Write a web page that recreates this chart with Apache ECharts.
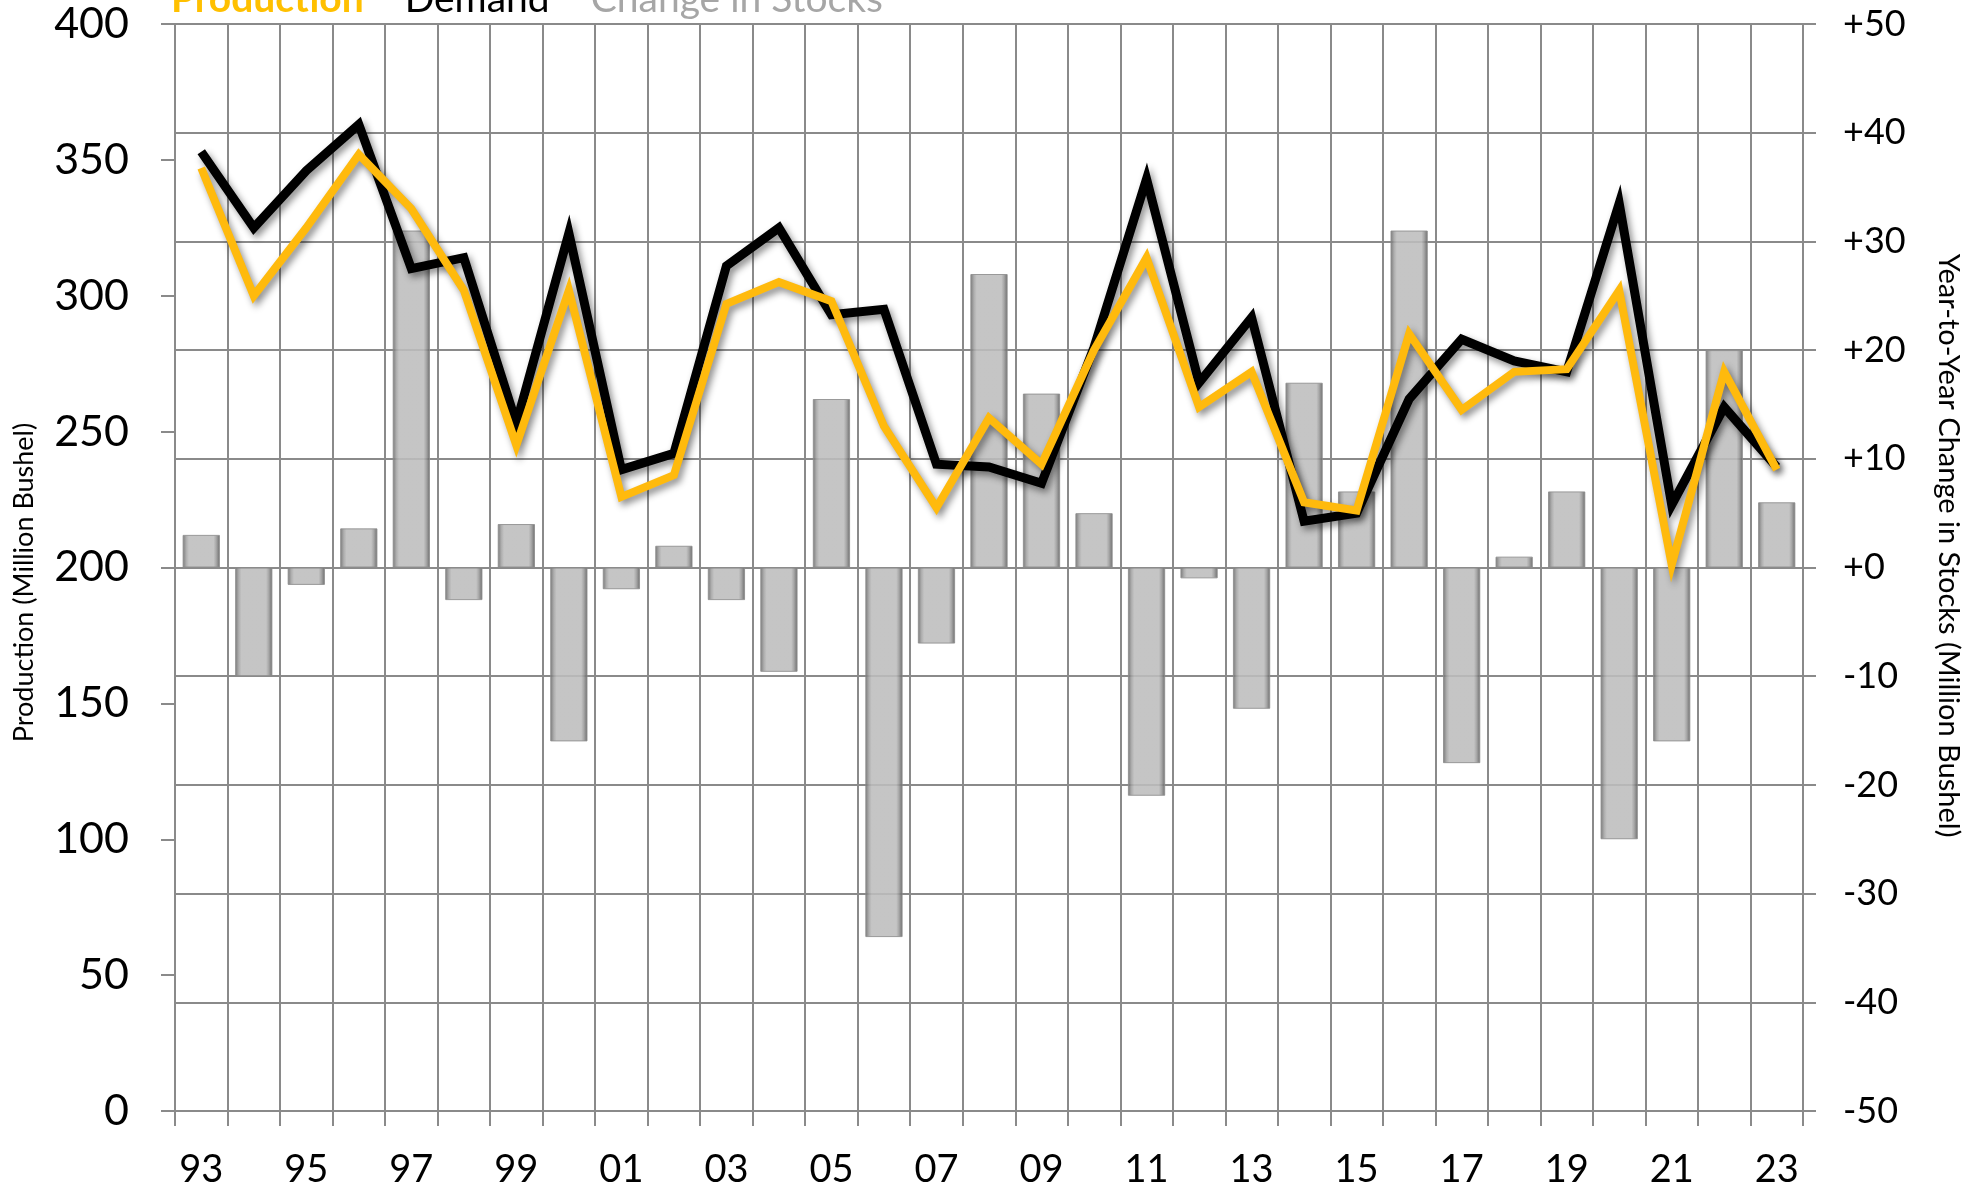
<!DOCTYPE html>
<html>
<head>
<meta charset="utf-8">
<script src="https://cdn.jsdelivr.net/npm/echarts@6/dist/echarts.min.js"></script>
<style>
  html, body { margin: 0; padding: 0; background: #fff; }
  #chart { width: 1980px; height: 1194px; }
</style>
</head>
<body>
<div id="chart"></div>
<script>
// crop years 1993-2023
var years = ['93','94','95','96','97','98','99','00','01','02','03','04','05','06','07',
  '08','09','10','11','12','13','14','15','16','17','18','19','20','21','22','23']
var production = [347, 300, 325, 352, 332, 302, 245, 302, 226, 234, 297, 305, 298, 252, 222,
  255, 238, 280, 314, 259, 272, 224, 221, 286, 258, 272, 273, 302, 201, 272, 236]
var demand = [353, 325, 346, 363, 310, 314, 253, 323, 236, 242, 311, 325, 293, 295, 238,
  237, 231, 281, 343, 268, 292, 217, 220, 262, 284, 276, 272, 334, 223, 259, 237]
var stockChange = [3, -10, -1.6, 3.6, 31, -3, 4, -16, -2, 2, -3, -9.6, 15.5, -34, -7,
  27, 16, 5, -21, -1, -13, 17, 7, 31, -18, 1, 7, -25, -16, 20, 6]

var gridGray = '#8a8a8a'
var font = 'Lato'

var chart = echarts.init(document.getElementById('chart'))
chart.setOption({
  animation: false,
  backgroundColor: '#fff',
  textStyle: { fontFamily: font },
  legend: {
    top: -20,
    left: 166,
    padding: 0,
    icon: 'none',
    itemWidth: 0,
    itemGap: 36,
    selectedMode: false,
    textStyle: { fontSize: 39, fontFamily: font },
    data: [
      { name: 'Production', textStyle: { color: '#FFC000', fontWeight: 'bold' } },
      { name: 'Demand', textStyle: { color: '#000' } },
      { name: 'Change in Stocks', textStyle: { color: '#A6A6A6' } }
    ]
  },
  grid: { left: 175, right: 177, top: 24, bottom: 83 },
  xAxis: {
    type: 'category',
    data: years,
    boundaryGap: true,
    axisLine: { show: true, lineStyle: { color: gridGray, width: 2 } },
    axisTick: { show: true, interval: 0, length: 15, lineStyle: { color: gridGray, width: 2 } },
    splitLine: { show: true, interval: 0, lineStyle: { color: gridGray, width: 2 } },
    axisLabel: { interval: 1, margin: 40, fontSize: 38, color: '#000', fontFamily: font }
  },
  yAxis: [
    {
      type: 'value',
      min: 0,
      max: 400,
      interval: 50,
      position: 'left',
      name: 'Production (Million Bushel)',
      nameLocation: 'middle',
      nameRotate: 90,
      nameGap: 137,
      nameTextStyle: { fontSize: 27, color: '#000', fontFamily: font, padding: [0, 30, 0, 0] },
      axisLine: { show: true, lineStyle: { color: gridGray, width: 2 } },
      axisTick: { show: true, length: 14, lineStyle: { color: gridGray, width: 2 } },
      splitLine: { show: false },
      axisLabel: { margin: 46, fontSize: 43, color: '#000', fontFamily: font }
    },
    {
      type: 'value',
      min: -50,
      max: 50,
      interval: 10,
      position: 'right',
      name: 'Year-to-Year Change in Stocks (Million Bushel)',
      nameLocation: 'middle',
      nameRotate: -90,
      nameGap: 131,
      nameTextStyle: { fontSize: 29, color: '#000', fontFamily: font, padding: [0, 44, 0, 0] },
      axisLine: { show: false },
      axisTick: { show: true, length: 13, lineStyle: { color: gridGray, width: 2 } },
      splitLine: { show: true, lineStyle: { color: gridGray, width: 2 } },
      axisLabel: {
        margin: 40,
        fontSize: 36,
        color: '#000',
        fontFamily: font,
        formatter: function (v) {
          return v >= 0 ? '+' + v : String(v)
        }
      }
    }
  ],
  series: [
    {
      name: 'Change in Stocks',
      type: 'bar',
      yAxisIndex: 1,
      barWidth: '71%',
      data: stockChange,
      itemStyle: {
        opacity: 0.88,
        borderColor: '#8e8e8e',
        borderWidth: 1,
        color: new echarts.graphic.LinearGradient(0, 0, 1, 0, [
          { offset: 0, color: '#666' },
          { offset: 0.1, color: '#a4a4a4' },
          { offset: 0.17, color: '#bdbdbd' },
          { offset: 0.83, color: '#bdbdbd' },
          { offset: 0.9, color: '#9c9c9c' },
          { offset: 1, color: '#585858' }
        ])
      }
    },
    {
      name: 'Demand',
      type: 'line',
      data: demand,
      showSymbol: false,
      symbol: 'none',
      lineStyle: {
        color: '#000',
        width: 9,
        join: 'miter',
        shadowColor: 'rgba(0,0,0,0.45)',
        shadowBlur: 7,
        shadowOffsetX: 3,
        shadowOffsetY: 4
      },
      itemStyle: { color: '#000' }
    },
    {
      name: 'Production',
      type: 'line',
      data: production,
      showSymbol: false,
      symbol: 'none',
      lineStyle: {
        color: '#FFBA0D',
        width: 8,
        join: 'miter',
        shadowColor: 'rgba(0,0,0,0.45)',
        shadowBlur: 7,
        shadowOffsetX: 3,
        shadowOffsetY: 4
      },
      itemStyle: { color: '#FFBA0D' }
    }
  ]
})
</script>
</body>
</html>
